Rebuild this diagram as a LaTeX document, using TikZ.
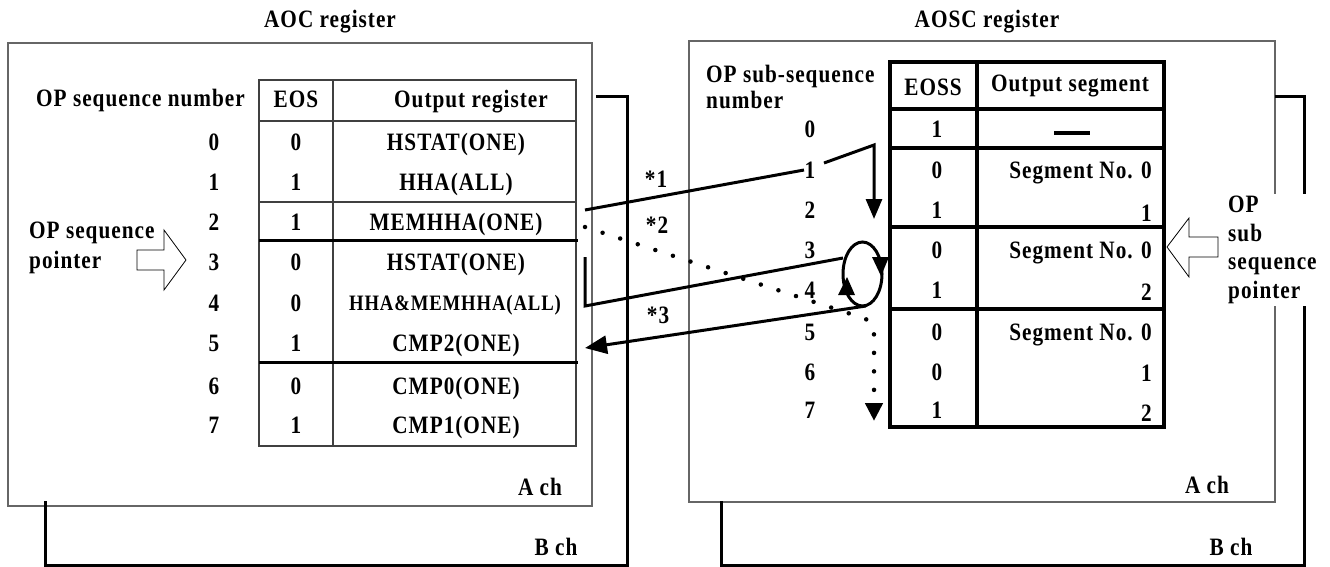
\documentclass[tikz,border=0pt]{standalone}
\usepackage{fontspec}
\setmainfont{Liberation Serif}[FakeStretch=0.85, LetterSpace=4]
\usetikzlibrary{arrows.meta}
\tikzset{
  bigtip/.tip={Triangle[length=20pt,width=16pt]},
  t/.style={font=\fontsize{25}{29}\selectfont\bfseries, inner sep=0pt, anchor=base},
  abox/.style={draw=black!60, line width=1.4pt},
  grid/.style={draw=black!75, line width=1.2pt},
  heavy/.style={draw=black, line width=3pt},
  rtab/.style={draw=black, line width=3.5pt},
  bline/.style={draw=black, line width=3pt, line join=miter},
  conn/.style={draw=black, line width=3pt},
  dotline/.style={draw=black, line width=4.5pt, line cap=round, dash pattern=on 0pt off 18.5pt},
  hollow/.style={draw=black, line width=0.8pt, fill=white}
}
\begin{document}
\begin{tikzpicture}[x=1pt,y=-1pt]
\useasboundingbox (0,0) rectangle (1330,567);

% ---------------- left panel ----------------
\node[t] (aoc) at (330,28) {AOC register};
\draw[abox] (8,43) rectangle (592,506);
\node[t] (ach1) at (540,495) {A ch};
\draw[bline] (596,97) -- (627,97) -- (627,565) -- (45,565) -- (45,501);
\node[t] (bch1) at (556,555) {B ch};

% table
\draw[grid] (259,80) rectangle (576,446);
\draw[grid] (333,80) -- (333,446);
\draw[grid] (259,121) -- (576,121);
\draw[grid] (259,202) -- (576,202);
\draw[heavy] (259,240) -- (578,240);
\draw[heavy] (259,362) -- (578,362);

\node[t, anchor=base east] (opsn) at (245,107) {OP sequence number};
\node[t] (eosh) at (296,108) {EOS};
\node[t] (outh) at (471,108) {Output register};

\foreach \i/\y/\e/\o in {0/150/0/HSTAT(ONE), 1/190/1/HHA(ALL), 2/230/1/MEMHHA(ONE), 3/270/0/HSTAT(ONE), 5/351/1/CMP2(ONE), 6/394/0/CMP0(ONE), 7/433/1/CMP1(ONE)}{
  \node[t] (ln\i) at (214,\y) {\i};
  \node[t] (le\i) at (296,\y) {\e};
  \node[t] (lo\i) at (456,\y) {\o};
}
\node[t] (ln4) at (214,311) {4};
\node[t] (le4) at (296,311) {0};
\node[t, font=\fontsize{22}{25}\selectfont\bfseries] (lo4) at (455,310) {HHA\&MEMHHA(ALL)};

\node[t, anchor=base west] (ptr1a) at (29,238) {OP sequence};
\node[t, anchor=base west] (ptr1b) at (29,268) {pointer};
\draw[hollow] (137,250) -- (164,250) -- (164,230) -- (186,260) -- (164,290) -- (164,270) -- (137,270) -- cycle;

% ---------------- right panel ----------------
\node[t] (aosc) at (987,28) {AOSC register};
\draw[abox] (689,41) rectangle (1275,502);
\node[t] (ach2) at (1207,493) {A ch};
\draw[bline] (1275,97) -- (1304,97) -- (1304,565) -- (721,565) -- (721,501);
\node[t] (bch2) at (1231,555) {B ch};
\node[t, font=\fontsize{25}{28.5}\selectfont\bfseries, anchor=north west, align=left, fill=white, inner xsep=2pt, inner ysep=2pt] (ptr2) at (1226,194) {OP\\sub\\sequence\\pointer};
\draw[hollow] (1218,237) -- (1189,237) -- (1189,218) -- (1167,247) -- (1189,277) -- (1189,257) -- (1218,257) -- cycle;

% table
\draw[rtab] (890,62) rectangle (1164,427);
\draw[rtab] (977,62) -- (977,427);
\foreach \y in {109,148,227,309}{ \draw[rtab] (890,\y) -- (1164,\y); }

\node[t, anchor=base west] (opssa) at (706,83) {OP sub-sequence};
\node[t, anchor=base west] (opssb) at (706,109) {number};
\node[t] (eossh) at (933,96) {EOSS};
\node[t] (outsh) at (1070,92) {Output segment};

\foreach \i/\y/\e in {0/138/1, 1/178/0, 2/218/1, 3/258/0, 4/298/1, 5/340/0, 6/380/0, 7/418/1}{
  \node[t] (sn\i) at (810,\y) {\i};
  \node[t] (se\i) at (937,\y) {\e};
}
\node[inner sep=0pt] (so0) at (1072,133) {\rule{36pt}{3.5pt}};
\node[t, anchor=base east] (so1) at (1152,178) {Segment No. 0};
\node[t, anchor=base east] (so2) at (1152,221) {1};
\node[t, anchor=base east] (so3) at (1152,258) {Segment No. 0};
\node[t, anchor=base east] (so4) at (1152,300) {2};
\node[t, anchor=base east] (so5) at (1152,340) {Segment No. 0};
\node[t, anchor=base east] (so6) at (1152,381) {1};
\node[t, anchor=base east] (so7) at (1152,421) {2};

% ---------------- connectors ----------------
\coordinate (p1) at (585,210);
\coordinate (k1a) at (804,170);
\coordinate (k1b) at (824,163);
\coordinate (c1) at (874,145);
\coordinate (t1) at (874,219);
\draw[conn] (p1) -- (k1a);
\draw[conn, -bigtip] (k1b) -- (c1) -- (t1);
\node[t] (m1) at (656,187) {*1};

\coordinate (p2) at (585,227);
\coordinate (k2) at (860,317);
\coordinate (t2) at (874,421);
\draw[dotline, -{Triangle[length=18pt,width=17pt]}] (p2) -- (k2) .. controls (874,322) .. (874,340) -- (t2);
\node[t] (m2) at (657,233) {*2};

\coordinate (p3a) at (585,257);
\coordinate (p3b) at (585,306);
\coordinate (lp) at (843,258);
\draw[conn, line join=miter] (p3a) -- (p3b) -- (lp);
\draw[conn] (862.5,274) ellipse [x radius=19.5, y radius=32];
\fill (872,257) -- (889,257) -- (881,276) -- cycle;
\fill (838,295) -- (855,295) -- (847,277) -- cycle;
\coordinate (lx) at (866,306);
\coordinate (t3) at (585,348);
\draw[conn, -{Triangle[length=22pt,width=18pt]}] (lx) -- (t3);
\node[t] (m3) at (658,323) {*3};
\end{tikzpicture}
\end{document}
